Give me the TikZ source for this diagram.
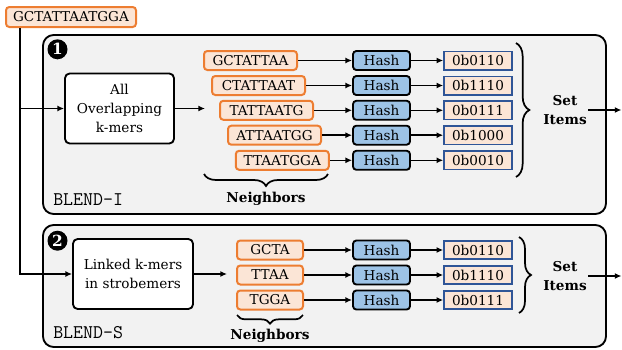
\documentclass[tikz,border=0pt]{standalone}
\usepackage{fontspec}
\setmainfont{DejaVu Serif}
\usetikzlibrary{arrows.meta,decorations.pathreplacing,calc}
\definecolor{korange}{HTML}{ED7D31}
\definecolor{kfill}{HTML}{FBE5D6}
\definecolor{hblue}{HTML}{9DC3E6}
\definecolor{vblue}{HTML}{2F5597}
\definecolor{pfill}{HTML}{F2F2F2}
\begin{document}
\begin{tikzpicture}[x=0.75pt,y=-0.75pt,
  panel/.style={draw=black,fill=pfill,line width=1.4pt,rounded corners=8pt,inner sep=0pt,minimum width=422.25pt},
  kmer/.style={draw=korange,fill=kfill,line width=1.5pt,rounded corners=2.5pt,inner sep=0pt,minimum height=14.25pt,font=\fontsize{10.2}{12}\selectfont},
  hashbox/.style={draw=black,fill=hblue,line width=1.4pt,rounded corners=2.5pt,inner sep=0pt,minimum width=42.75pt,minimum height=14.25pt,font=\fontsize{10.2}{12}\selectfont},
  valbox/.style={draw=vblue,fill=kfill,line width=1.2pt,inner sep=0pt,minimum width=51pt,minimum height=13.8pt,font=\fontsize{10.2}{12}\selectfont},
  procbox/.style={draw=black,fill=white,line width=1.4pt,rounded corners=3.5pt,inner sep=0pt,minimum height=52.5pt,align=center,font=\fontsize{10.2}{14.5}\selectfont},
  numcirc/.style={circle,fill=black,inner sep=0pt,minimum size=15pt,text=white,font=\fontsize{11.5}{12}\selectfont\bfseries},
  lbl/.style={font=\fontsize{10.2}{14.3}\selectfont\bfseries,align=center,inner sep=1pt},
  mono/.style={font=\fontsize{14.5}{16}\ttfamily,anchor=west,inner sep=0pt},
  arr/.style={line width=1.2pt,-{Latex[length=5pt,width=4.5pt]}},
  brc/.style={line width=1.3pt,decorate,decoration={brace,amplitude=#1}}
]
\useasboundingbox (0,0) rectangle (622,350);

% panels
\node[panel,minimum height=134.25pt] (p1) at (324.5,124.5) {};
\node[panel,minimum height=91.5pt] (p2) at (324.5,286) {};
\node[numcirc] (n1) at (57.5,49.3) {1};
\node[numcirc] (n2) at (57.5,240.7) {2};
\node[mono] (bi) at (53,200) {BLEND-I};
\node[mono] (bs) at (53,333) {BLEND-S};

% input
\node[kmer,minimum width=97.5pt,minimum height=15pt] (top) at (71,17) {GCTATTAATGGA};
\coordinate (trunk) at (20,0);

% panel 1
\node[procbox,minimum width=81.75pt] (allb) at (119.5,108.5) {All\\Overlapping\\k-mers};
\coordinate (a1) at (205,108.5);
\node[kmer,minimum width=69.75pt] (k1) at (250.5,60.5) {GCTATTAA};
\node[kmer,minimum width=69.75pt] (k2) at (258.5,85.5) {CTATTAAT};
\node[kmer,minimum width=69.75pt] (k3) at (266.5,110.3) {TATTAATG};
\node[kmer,minimum width=69.75pt] (k4) at (274.5,135.2) {ATTAATGG};
\node[kmer,minimum width=69.75pt] (k5) at (282.3,160.3) {TTAATGGA};
\foreach \i/\y/\v in {1/60.5/0b0110,2/85.5/0b1110,3/110.3/0b0111,4/135.2/0b1000,5/160.3/0b0010}{
  \node[hashbox] (h\i) at (381.5,\y) {Hash};
  \node[valbox] (v\i) at (478,\y) {\v};
  \draw[arr] (k\i) -- (h\i);
  \draw[arr] (h\i) -- (v\i);
}
\coordinate (b1t) at (516,43);
\coordinate (b1b) at (516,177);
\draw[brc=10pt] (b1t) -- (b1b);
\node[lbl] (si1) at (565,110) {Set\\Items};
\coordinate (o1) at (621.5,110);
\draw[arr] (si1.east) -- (o1);
\coordinate (nb1r) at (328,174);
\coordinate (nb1l) at (204,174);
\draw[brc=9pt] (nb1r) -- (nb1l);
\node[lbl] (ne1) at (266,199) {Neighbors};

% panel 2
\node[procbox,minimum width=90pt] (lnk) at (133,274) {Linked k-mers\\in strobemers};
\coordinate (a2) at (227,274);
\foreach \i/\y/\k/\v in {1/250/GCTA/0b0110,2/275/TTAA/0b1110,3/300/TGGA/0b0111}{
  \node[kmer,minimum width=49.5pt] (m\i) at (270,\y) {\k};
  \node[hashbox] (g\i) at (381.5,\y) {Hash};
  \node[valbox] (w\i) at (478,\y) {\v};
  \draw[arr] (m\i) -- (g\i);
  \draw[arr] (g\i) -- (w\i);
}
\coordinate (b2t) at (519,237);
\coordinate (b2b) at (519,313);
\draw[brc=9pt] (b2t) -- (b2b);
\node[lbl] (si2) at (565,276) {Set\\Items};
\coordinate (o2) at (621.5,276);
\draw[arr] (si2.east) -- (o2);
\coordinate (nb2r) at (303,315);
\coordinate (nb2l) at (237,315);
\draw[brc=6.5pt] (nb2r) -- (nb2l);
\node[lbl] (ne2) at (270,336) {Neighbors};

% connectors
\draw[arr] (top.south -| trunk) |- (allb.west);
\draw[arr] (top.south -| trunk) |- (lnk.west);
\draw[arr] (allb.east) -- (a1);
\draw[arr] (lnk.east) -- (a2);
\end{tikzpicture}
\end{document}
